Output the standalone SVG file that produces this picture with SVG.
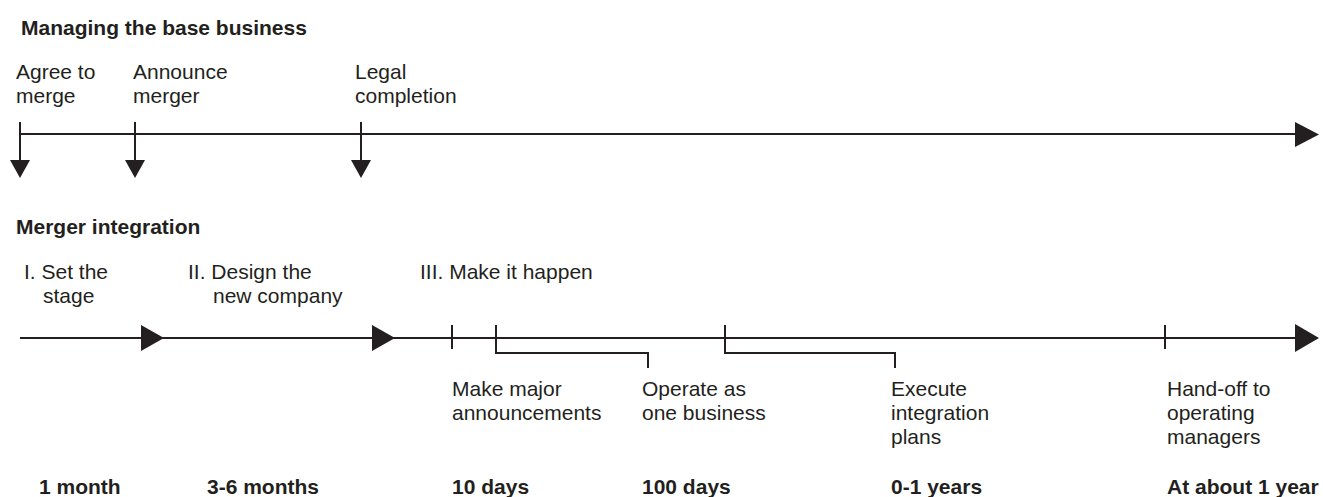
<svg xmlns="http://www.w3.org/2000/svg" width="1323" height="497" viewBox="0 0 1323 497">
<style>
text{font-family:"Liberation Sans",Arial,sans-serif;font-size:21px;fill:#231f20}
.b{font-weight:bold}
.ln{stroke:#231f20;stroke-width:2;fill:none}
.ah{fill:#231f20;stroke:none}
</style>
<rect width="1323" height="497" fill="#fff"/>
<g id="headings">
<text class="b" x="21" y="35">Managing the base business</text>
<text class="b" x="16" y="234">Merger integration</text>
</g>
<g id="connectors">
<line class="ln" x1="20" y1="134" x2="1298" y2="134"/>
<polygon class="ah" points="1295,122 1319,134.5 1295,147"/>
<line class="ln" x1="20" y1="122" x2="20" y2="162"/>
<polygon class="ah" points="10,160 30,160 20,178"/>
<line class="ln" x1="135" y1="122" x2="135" y2="162"/>
<polygon class="ah" points="125,160 145,160 135,178"/>
<line class="ln" x1="361" y1="122" x2="361" y2="162"/>
<polygon class="ah" points="351,160 371,160 361,178"/>
<line class="ln" x1="20" y1="338" x2="1298" y2="338"/>
<polygon class="ah" points="141,325 164,338 141,351"/>
<polygon class="ah" points="372,325 395,338 372,351"/>
<polygon class="ah" points="1295,324 1319,338 1295,352"/>
<line class="ln" x1="452" y1="325" x2="452" y2="349"/>
<line class="ln" x1="1165" y1="325" x2="1165" y2="349"/>
<polyline class="ln" points="496,325 496,353 648,353 648,368"/>
<polyline class="ln" points="725,325 725,353 895,353 895,368"/>
</g>
<g id="agree">
<text x="16" y="79">Agree to</text>
<text x="16" y="103">merge</text>
</g>
<g id="announce">
<text x="133" y="79">Announce</text>
<text x="133" y="103">merger</text>
</g>
<g id="legal">
<text x="355" y="79">Legal</text>
<text x="355" y="103">completion</text>
</g>
<g id="phase1">
<text x="24" y="279">I. Set the</text>
<text x="43" y="303">stage</text>
</g>
<g id="phase2">
<text x="188" y="279">II. Design the</text>
<text x="213" y="303">new company</text>
</g>
<g id="phase3">
<text x="420" y="279">III. Make it happen</text>
</g>
<g id="announcements">
<text x="452" y="396">Make major</text>
<text x="452" y="420">announcements</text>
</g>
<g id="operate">
<text x="642" y="396">Operate as</text>
<text x="642" y="420">one business</text>
</g>
<g id="execute">
<text x="891" y="396">Execute</text>
<text x="891" y="420">integration</text>
<text x="891" y="444">plans</text>
</g>
<g id="handoff">
<text x="1167" y="396">Hand-off to</text>
<text x="1167" y="420">operating</text>
<text x="1167" y="444">managers</text>
</g>
<g id="durations">
<text class="b" x="39" y="494">1 month</text>
<text class="b" x="207" y="494">3-6 months</text>
<text class="b" x="452" y="494">10 days</text>
<text class="b" x="642" y="494">100 days</text>
<text class="b" x="891" y="494">0-1 years</text>
<text class="b" x="1167" y="494">At about 1 year</text>
</g>
</svg>
